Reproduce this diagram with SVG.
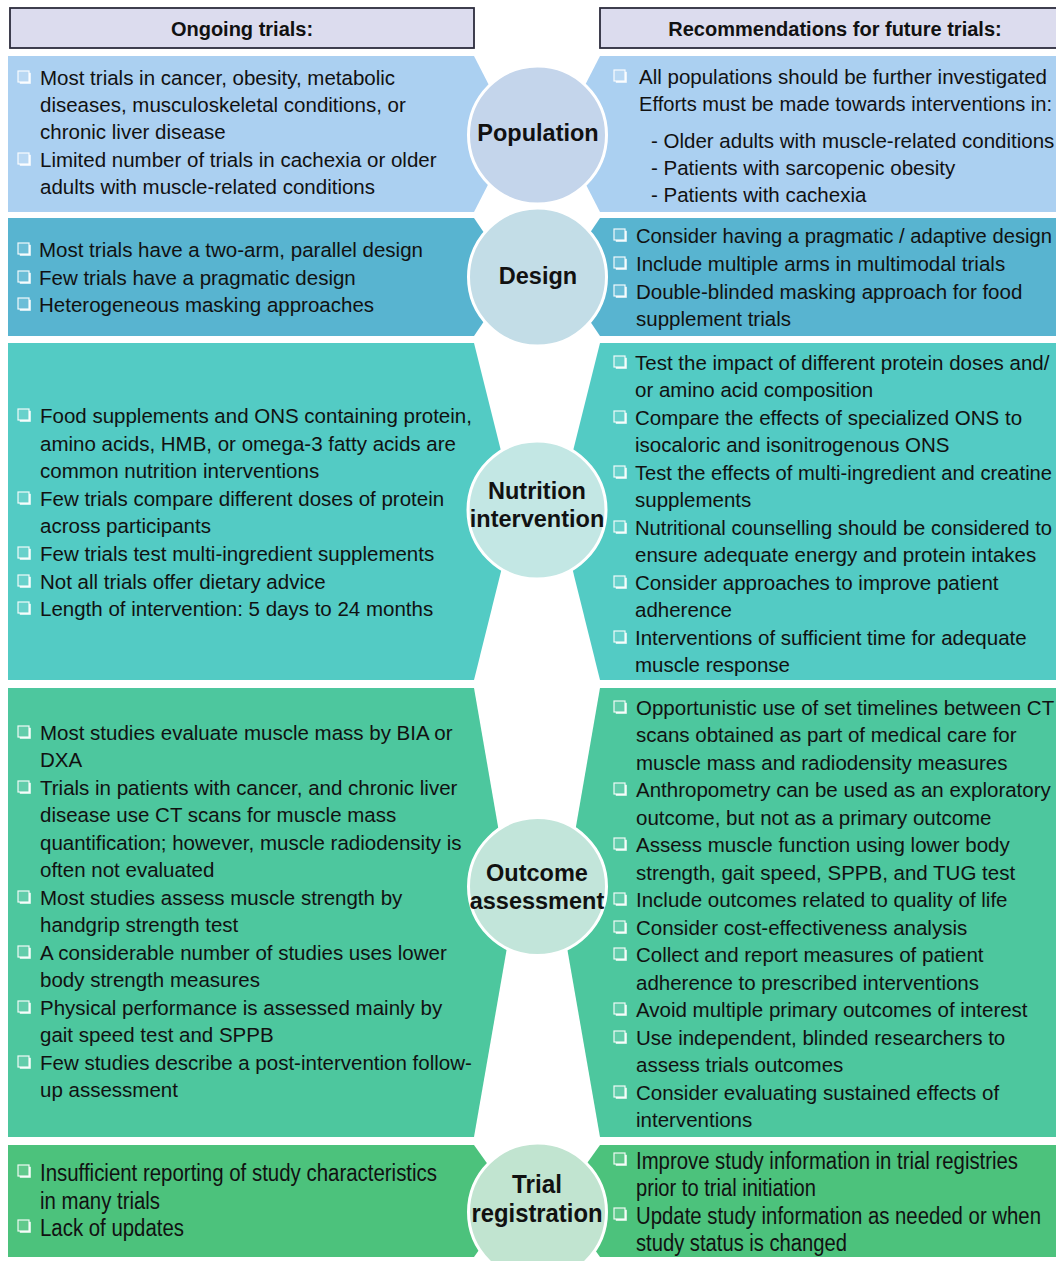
<svg xmlns="http://www.w3.org/2000/svg" width="1056" height="1261" viewBox="0 0 1056 1261">
<style>
text{font-family:"Liberation Sans",Arial,sans-serif;fill:#111}
.t{font-size:20.5px}
.ts{font-size:19.6px}
.tn{font-size:20px}
.h{font-size:20px;font-weight:bold;text-anchor:middle}
.c{font-size:23.5px;font-weight:bold;text-anchor:middle}
.hdr{fill:#dcdcee;stroke:#2c2c3c;stroke-width:1.8}
.circ{stroke:#fff;stroke-width:3}
</style>
<defs>
<symbol id="bul" overflow="visible">
<rect x="1.8" y="1.8" width="11" height="11" fill="#fff" fill-opacity="0.9"/>
<rect x="0" y="0" width="11" height="11" stroke="#fff" stroke-width="1.2" stroke-opacity="0.9"/>
</symbol>
</defs>
<rect width="1056" height="1261" fill="#fff"/>

<g id="header-left">
<rect class="hdr" x="10" y="8" width="464" height="40"/>
<text class="h" x="242" y="36">Ongoing trials:</text>
</g>
<g id="header-right">
<rect class="hdr" x="600" y="8" width="470" height="40"/>
<text class="h" x="835" y="36">Recommendations for future trials:</text>
</g>

<g id="population">
<polygon fill="#abd0f1" points="8,56 474,56 514,134 474,212 8,212"/>
<polygon fill="#abd0f1" points="600,56 1056,56 1056,212 600,212 560,134"/>
<g fill="#b9d8f3">
<use href="#bul" x="18" y="71"/><use href="#bul" x="18" y="153"/>
<use href="#bul" x="614" y="70"/>
</g>
<text class="t" x="40" y="85">Most trials in cancer, obesity, metabolic</text>
<text class="t" x="40" y="112">diseases, musculoskeletal conditions, or</text>
<text class="t" x="40" y="139">chronic liver disease</text>
<text class="t" x="40" y="167">Limited number of trials in cachexia or older</text>
<text class="t" x="40" y="194">adults with muscle-related conditions</text>
<text class="t" x="639" y="84">All populations should be further investigated</text>
<text class="ts" x="639" y="111" textLength="413" lengthAdjust="spacingAndGlyphs">Efforts must be made towards interventions in:</text>
<text class="t" x="651" y="148">- Older adults with muscle-related conditions</text>
<text class="t" x="651" y="175">- Patients with sarcopenic obesity</text>
<text class="t" x="651" y="202">- Patients with cachexia</text>
<circle class="circ" cx="537.5" cy="135" r="69" fill="#c4d5eb"/>
<text class="c" x="538" y="141">Population</text>
</g>

<g id="design">
<polygon fill="#58b4d0" points="8,218 474,218 514,277 474,336 8,336"/>
<polygon fill="#58b4d0" points="600,218 1056,218 1056,336 600,336 560,277"/>
<g fill="#6cbed7">
<use href="#bul" x="18" y="243"/><use href="#bul" x="18" y="271"/><use href="#bul" x="18" y="298"/>
<use href="#bul" x="614" y="229"/><use href="#bul" x="614" y="257"/><use href="#bul" x="614" y="285"/>
</g>
<text class="t" x="39" y="257">Most trials have a two-arm, parallel design</text>
<text class="t" x="39" y="285">Few trials have a pragmatic design</text>
<text class="t" x="39" y="312">Heterogeneous masking approaches</text>
<text class="t" x="636" y="243" textLength="416" lengthAdjust="spacingAndGlyphs">Consider having a pragmatic / adaptive design</text>
<text class="t" x="636" y="271">Include multiple arms in multimodal trials</text>
<text class="t" x="636" y="299">Double-blinded masking approach for food</text>
<text class="t" x="636" y="326">supplement trials</text>
<circle class="circ" cx="537.5" cy="277" r="69" fill="#c3dde7"/>
<text class="c" x="538" y="284">Design</text>
</g>

<g id="nutrition">
<polygon fill="#53cbc4" points="8,343 474,343 516,511 474,680 8,680"/>
<polygon fill="#53cbc4" points="600,343 1056,343 1056,680 600,680 558,511"/>
<g fill="#68d1cb">
<use href="#bul" x="18" y="409"/><use href="#bul" x="18" y="492"/><use href="#bul" x="18" y="547"/><use href="#bul" x="18" y="575"/><use href="#bul" x="18" y="602"/>
<use href="#bul" x="614" y="356"/><use href="#bul" x="614" y="411"/><use href="#bul" x="614" y="466"/><use href="#bul" x="614" y="521"/><use href="#bul" x="614" y="576"/><use href="#bul" x="614" y="631"/>
</g>
<text class="t" x="40" y="423">Food supplements and ONS containing protein,</text>
<text class="t" x="40" y="451">amino acids, HMB, or omega-3 fatty acids are</text>
<text class="t" x="40" y="478">common nutrition interventions</text>
<text class="t" x="40" y="506">Few trials compare different doses of protein</text>
<text class="t" x="40" y="533">across participants</text>
<text class="t" x="40" y="561">Few trials test multi-ingredient supplements</text>
<text class="t" x="40" y="589">Not all trials offer dietary advice</text>
<text class="t" x="40" y="616">Length of intervention: 5 days to 24 months</text>
<text class="t" x="635" y="370">Test the impact of different protein doses and/</text>
<text class="t" x="635" y="397">or amino acid composition</text>
<text class="t" x="635" y="425">Compare the effects of specialized ONS to</text>
<text class="t" x="635" y="452">isocaloric and isonitrogenous ONS</text>
<text class="ts" x="635" y="480" textLength="417" lengthAdjust="spacingAndGlyphs">Test the effects of multi-ingredient and creatine</text>
<text class="t" x="635" y="507">supplements</text>
<text class="ts" x="635" y="535" textLength="417" lengthAdjust="spacingAndGlyphs">Nutritional counselling should be considered to</text>
<text class="t" x="635" y="562">ensure adequate energy and protein intakes</text>
<text class="t" x="635" y="590">Consider approaches to improve patient</text>
<text class="t" x="635" y="617">adherence</text>
<text class="t" x="635" y="645">Interventions of sufficient time for adequate</text>
<text class="t" x="635" y="672">muscle response</text>
<circle class="circ" cx="537" cy="510" r="69" fill="#c3e7e4"/>
<text class="c" x="537" y="499">Nutrition</text>
<text class="c" x="537" y="527">intervention</text>
</g>

<g id="outcome">
<polygon fill="#4dc79e" points="8,688 474,688 513,913 474,1137 8,1137"/>
<polygon fill="#4dc79e" points="600,688 1056,688 1056,1137 600,1137 561,913"/>
<g fill="#63cdab">
<use href="#bul" x="18" y="726"/><use href="#bul" x="18" y="781"/><use href="#bul" x="18" y="891"/><use href="#bul" x="18" y="946"/><use href="#bul" x="18" y="1001"/><use href="#bul" x="18" y="1056"/>
<use href="#bul" x="614" y="701"/><use href="#bul" x="614" y="783"/><use href="#bul" x="614" y="838"/><use href="#bul" x="614" y="893"/><use href="#bul" x="614" y="921"/><use href="#bul" x="614" y="948"/><use href="#bul" x="614" y="1003"/><use href="#bul" x="614" y="1031"/><use href="#bul" x="614" y="1086"/>
</g>
<text class="t" x="40" y="740">Most studies evaluate muscle mass by BIA or</text>
<text class="t" x="40" y="767">DXA</text>
<text class="t" x="40" y="795">Trials in patients with cancer, and chronic liver</text>
<text class="t" x="40" y="822">disease use CT scans for muscle mass</text>
<text class="t" x="40" y="850">quantification; however, muscle radiodensity is</text>
<text class="t" x="40" y="877">often not evaluated</text>
<text class="t" x="40" y="905">Most studies assess muscle strength by</text>
<text class="t" x="40" y="932">handgrip strength test</text>
<text class="t" x="40" y="960">A considerable number of studies uses lower</text>
<text class="t" x="40" y="987">body strength measures</text>
<text class="t" x="40" y="1015">Physical performance is assessed mainly by</text>
<text class="t" x="40" y="1042">gait speed test and SPPB</text>
<text class="t" x="40" y="1070">Few studies describe a post-intervention follow-</text>
<text class="t" x="40" y="1097">up assessment</text>
<text class="t" x="636" y="715">Opportunistic use of set timelines between CT</text>
<text class="t" x="636" y="742">scans obtained as part of medical care for</text>
<text class="t" x="636" y="770">muscle mass and radiodensity measures</text>
<text class="t" x="636" y="797">Anthropometry can be used as an exploratory</text>
<text class="t" x="636" y="825">outcome, but not as a primary outcome</text>
<text class="t" x="636" y="852">Assess muscle function using lower body</text>
<text class="t" x="636" y="880">strength, gait speed, SPPB, and TUG test</text>
<text class="t" x="636" y="907">Include outcomes related to quality of life</text>
<text class="t" x="636" y="935">Consider cost-effectiveness analysis</text>
<text class="t" x="636" y="962">Collect and report measures of patient</text>
<text class="t" x="636" y="990">adherence to prescribed interventions</text>
<text class="t" x="636" y="1017">Avoid multiple primary outcomes of interest</text>
<text class="t" x="636" y="1045">Use independent, blinded researchers to</text>
<text class="t" x="636" y="1072">assess trials outcomes</text>
<text class="t" x="636" y="1100">Consider evaluating sustained effects of</text>
<text class="t" x="636" y="1127">interventions</text>
<circle class="circ" cx="537.5" cy="886.5" r="69" fill="#c2e5da"/>
<text class="c" x="537" y="881">Outcome</text>
<text class="c" x="537" y="909">assessment</text>
</g>

<g id="trial-registration">
<polygon fill="#4cc27c" points="8,1145 474,1145 514,1201 474,1257 8,1257"/>
<polygon fill="#4cc27c" points="600,1145 1056,1145 1056,1257 600,1257 560,1201"/>
<g fill="#61c98c">
<use href="#bul" x="18" y="1165"/><use href="#bul" x="18" y="1220"/>
<use href="#bul" x="614" y="1153"/><use href="#bul" x="614" y="1208"/>
</g>
<text class="tn" transform="translate(40,1181) scale(1,1.15)" textLength="397" lengthAdjust="spacingAndGlyphs">Insufficient reporting of study characteristics</text>
<text class="tn" transform="translate(40,1209) scale(1,1.15)" textLength="120" lengthAdjust="spacingAndGlyphs">in many trials</text>
<text class="tn" transform="translate(40,1236) scale(1,1.15)" textLength="144" lengthAdjust="spacingAndGlyphs">Lack of updates</text>
<text class="tn" transform="translate(636,1169) scale(1,1.15)" textLength="382" lengthAdjust="spacingAndGlyphs">Improve study information in trial registries</text>
<text class="tn" transform="translate(636,1196) scale(1,1.15)" textLength="180" lengthAdjust="spacingAndGlyphs">prior to trial initiation</text>
<text class="tn" transform="translate(636,1224) scale(1,1.15)" textLength="405" lengthAdjust="spacingAndGlyphs">Update study information as needed or when</text>
<text class="tn" transform="translate(636,1251) scale(1,1.15)" textLength="211" lengthAdjust="spacingAndGlyphs">study status is changed</text>
<circle class="circ" cx="537.5" cy="1212" r="69" fill="#c1e4d0"/>
<text class="c" transform="translate(537,1193) scale(1,1.12)" textLength="50" lengthAdjust="spacingAndGlyphs">Trial</text>
<text class="c" transform="translate(537,1222) scale(1,1.12)" textLength="131" lengthAdjust="spacingAndGlyphs">registration</text>
</g>
</svg>
